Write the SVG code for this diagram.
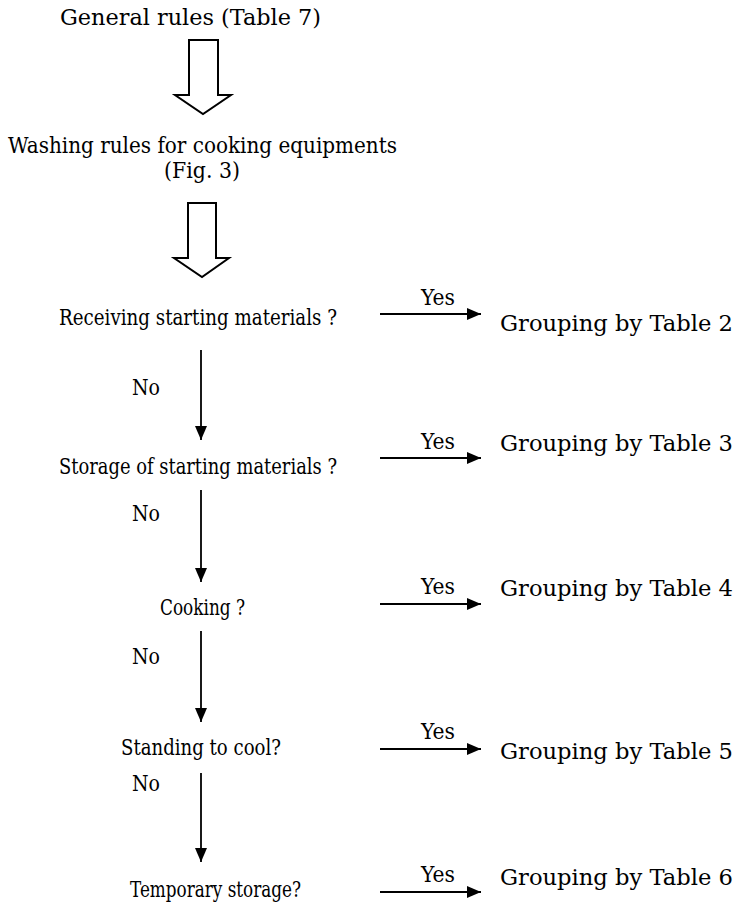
<svg xmlns="http://www.w3.org/2000/svg" width="737" height="904" viewBox="0 0 737 904">
<defs>
<style>
text{font-family:"DejaVu Serif","Liberation Serif",serif;font-size:22px;fill:#000;}
.ln{stroke:#000;stroke-width:1.8;fill:none;}
.blk{stroke:#000;stroke-width:2;fill:#fff;stroke-linejoin:miter;}
</style>
<marker id="ah" viewBox="0 0 14 12" refX="14" refY="6" markerWidth="14" markerHeight="12" markerUnits="userSpaceOnUse" orient="auto">
<path d="M0,0 L14,6 L0,12 Z" fill="#000"/>
</marker>
</defs>
<rect width="737" height="904" fill="#fff"/>
<g id="general"><text x="60" y="25" textLength="261" lengthAdjust="spacingAndGlyphs">General rules (Table 7)</text></g>
<g id="washing"><text x="8" y="153" textLength="389" lengthAdjust="spacingAndGlyphs">Washing rules for cooking equipments</text><text x="164" y="178" textLength="76" lengthAdjust="spacingAndGlyphs">(Fig. 3)</text></g>
<g id="q1"><text x="59" y="325" textLength="278" lengthAdjust="spacingAndGlyphs">Receiving starting materials ?</text></g>
<g id="q2"><text x="59" y="474" textLength="278" lengthAdjust="spacingAndGlyphs">Storage of starting materials ?</text></g>
<g id="q3"><text x="160" y="615" textLength="85" lengthAdjust="spacingAndGlyphs">Cooking ?</text></g>
<g id="q4"><text x="121" y="755" textLength="160" lengthAdjust="spacingAndGlyphs">Standing to cool?</text></g>
<g id="q5"><text x="130" y="897" textLength="171" lengthAdjust="spacingAndGlyphs">Temporary storage?</text></g>
<g id="t2"><text x="500" y="331" textLength="233" lengthAdjust="spacingAndGlyphs">Grouping by Table 2</text></g>
<g id="t3"><text x="500" y="451" textLength="233" lengthAdjust="spacingAndGlyphs">Grouping by Table 3</text></g>
<g id="t4"><text x="500" y="596" textLength="233" lengthAdjust="spacingAndGlyphs">Grouping by Table 4</text></g>
<g id="t5"><text x="500" y="759" textLength="233" lengthAdjust="spacingAndGlyphs">Grouping by Table 5</text></g>
<g id="t6"><text x="500" y="885" textLength="233" lengthAdjust="spacingAndGlyphs">Grouping by Table 6</text></g>
<g id="connectors">
<polygon class="blk" points="189,40 218,40 218,95 231,95 203,114 175,95 189,95"/>
<polygon class="blk" points="188,203 216,203 216,258 229,258 202,277 174,258 188,258"/>
<line class="ln" x1="201" y1="350" x2="201" y2="440" marker-end="url(#ah)"/>
<line class="ln" x1="201" y1="490" x2="201" y2="582" marker-end="url(#ah)"/>
<line class="ln" x1="201" y1="631" x2="201" y2="722" marker-end="url(#ah)"/>
<line class="ln" x1="201" y1="773" x2="201" y2="862" marker-end="url(#ah)"/>
<line class="ln" x1="380" y1="314" x2="481" y2="314" marker-end="url(#ah)"/>
<line class="ln" x1="380" y1="458" x2="481" y2="458" marker-end="url(#ah)"/>
<line class="ln" x1="380" y1="604" x2="481" y2="604" marker-end="url(#ah)"/>
<line class="ln" x1="380" y1="749" x2="481" y2="749" marker-end="url(#ah)"/>
<line class="ln" x1="380" y1="892" x2="481" y2="892" marker-end="url(#ah)"/>
<text x="421" y="305" textLength="34" lengthAdjust="spacingAndGlyphs">Yes</text>
<text x="421" y="449" textLength="34" lengthAdjust="spacingAndGlyphs">Yes</text>
<text x="421" y="594" textLength="34" lengthAdjust="spacingAndGlyphs">Yes</text>
<text x="421" y="739" textLength="34" lengthAdjust="spacingAndGlyphs">Yes</text>
<text x="421" y="882" textLength="34" lengthAdjust="spacingAndGlyphs">Yes</text>
<text x="132" y="395" textLength="28" lengthAdjust="spacingAndGlyphs">No</text>
<text x="132" y="521" textLength="28" lengthAdjust="spacingAndGlyphs">No</text>
<text x="132" y="664" textLength="28" lengthAdjust="spacingAndGlyphs">No</text>
<text x="132" y="791" textLength="28" lengthAdjust="spacingAndGlyphs">No</text>
</g>
</svg>
